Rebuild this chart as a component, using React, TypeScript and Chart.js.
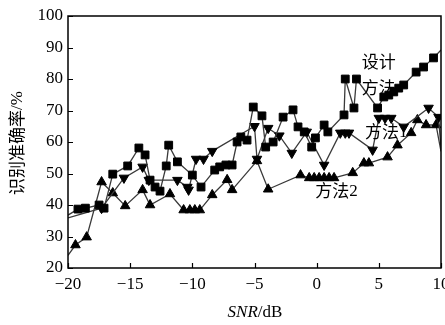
import React, { useEffect, useRef } from "react";
import { Chart, registerables } from "chart.js";

Chart.register(...registerables);

// ---- data ----
const designX = [-20, -19.2, -18.6, -17.5, -17.1, -16.4, -15.2, -14.3, -13.8, -13.4, -13.0, -12.6, -12.1, -11.9, -11.2, -10.0, -9.3, -8.2, -7.8, -7.3, -6.8, -6.4, -6.1, -5.6, -5.1, -4.4, -4.1, -3.5, -2.7, -1.9, -1.5, -1.0, -0.4, -0.1, 0.6, 0.9, 2.2, 2.3, 3.0, 3.2, 4.9, 5.4, 5.8, 6.2, 6.6, 7.0, 8.0, 8.6, 9.4, 10];
const designY = [36.8, 38.7, 39.0, 40.0, 39.0, 49.8, 52.4, 58.1, 55.9, 47.9, 45.7, 44.4, 52.4, 59.0, 53.7, 49.5, 45.7, 51.1, 52.1, 52.7, 52.7, 60.0, 61.6, 60.6, 71.1, 68.3, 58.4, 60.0, 67.9, 70.2, 64.8, 63.2, 58.4, 61.3, 65.4, 63.2, 68.6, 80.0, 70.8, 80.0, 70.8, 74.3, 74.9, 75.9, 77.1, 78.1, 82.2, 83.8, 86.7, 89.2];

const method1X = [-20, -17.3, -15.5, -14.0, -13.5, -11.2, -10.4, -10.3, -9.7, -9.1, -8.4, -5.0, -4.8, -3.9, -3.0, -2.0, -0.8, 0.6, 1.9, 2.3, 2.6, 4.5, 5.0, 5.5, 6.0, 7.0, 9.0, 9.8, 10];
const method1Y = [35.9, 39.0, 48.6, 52.1, 47.9, 47.9, 45.7, 44.8, 54.6, 54.6, 57.1, 65.0, 54.6, 64.4, 62.0, 56.5, 63.2, 52.7, 62.9, 62.9, 62.9, 57.5, 67.6, 67.6, 67.6, 64.8, 70.8, 67.9, 58];

const method2X = [-20, -19.4, -18.5, -17.3, -16.4, -15.4, -14.0, -13.4, -11.8, -10.7, -10.2, -9.8, -9.4, -8.4, -7.2, -6.8, -4.8, -3.9, -1.3, -0.6, -0.2, 0.2, 0.6, 1.0, 1.4, 2.9, 3.8, 4.2, 5.7, 6.5, 7.6, 8.1, 8.8, 9.6, 10];
const method2Y = [24, 27.3, 29.8, 47.3, 43.8, 39.7, 44.8, 40.0, 43.5, 38.4, 38.4, 38.4, 38.4, 43.2, 48.0, 44.8, 54.0, 45.0, 49.5, 48.6, 48.6, 48.6, 48.6, 48.6, 48.6, 50.2, 53.3, 53.3, 55.2, 59.0, 62.9, 67.0, 65.4, 65.4, 57];

const xTicks = [-20, -15, -10, -5, 0, 5, 10];
const yTicks = [20, 30, 40, 50, 60, 70, 80, 90, 100];

const labels = [
  { text: "设计", x: 5.0, y: 85.4 },
  { text: "方法", x: 5.0, y: 77.3 },
  { text: "方法1", x: 5.6, y: 63.3 },
  { text: "方法2", x: 1.6, y: 44.6 },
];

const X_MIN = -20, X_MAX = 10, Y_MIN = 20, Y_MAX = 100;

const serif = "'Liberation Serif', 'DejaVu Serif', serif";
const cjk = "'Noto Sans CJK SC', sans-serif";

const toPts = (xs: number[], ys: number[]) => xs.map((x, i) => ({ x, y: ys[i] }));
const radii = (xs: number[], r: number) => xs.map((x) => (x <= X_MIN || x >= X_MAX ? 0 : r));

const fmt = (v: number) => (v < 0 ? "\u2212" + Math.abs(v) : String(v));

function mixedText(ctx: any, parts: { t: string; font: string; dy: number }[], cx: number, cy: number) {
  let total = 0;
  parts.forEach((p) => {
    ctx.font = p.font;
    total += ctx.measureText(p.t).width;
  });
  let sx = cx - total / 2;
  ctx.textAlign = "left";
  ctx.textBaseline = "middle";
  parts.forEach((p) => {
    ctx.font = p.font;
    ctx.fillText(p.t, sx, cy + p.dy);
    sx += ctx.measureText(p.t).width;
  });
}

const decor = {
  id: "decor",
  afterDraw(chart: any) {
    const { ctx, chartArea: a, scales } = chart;
    const xs = scales.x, ys = scales.y;
    ctx.save();
    ctx.strokeStyle = "#000";
    ctx.lineWidth = 1.5;
    ctx.strokeRect(a.left, a.top, a.right - a.left, a.bottom - a.top);
    ctx.lineWidth = 1.2;
    ctx.beginPath();
    yTicks.forEach((v) => {
      const p = Math.round(ys.getPixelForValue(v)) + 0.5;
      ctx.moveTo(a.left, p);
      ctx.lineTo(a.left + 5, p);
    });
    xTicks.forEach((v) => {
      const p = Math.round(xs.getPixelForValue(v)) + 0.5;
      ctx.moveTo(p, a.bottom);
      ctx.lineTo(p, a.bottom - 5);
    });
    ctx.stroke();

    ctx.fillStyle = "#000";
    const hanFont = `17px ${cjk}`;
    const numFont = `17px ${serif}`;
    labels.forEach((l) => {
      const px = xs.getPixelForValue(l.x);
      const py = ys.getPixelForValue(l.y);
      const m = l.text.match(/^(\D+)(\d*)$/);
      const han = m ? m[1] : l.text;
      const num = m ? m[2] : "";
      const parts = [{ t: han, font: hanFont, dy: 0 }];
      if (num) parts.push({ t: num, font: numFont, dy: 1 });
      mixedText(ctx, parts, px, py);
    });

    // y title
    ctx.save();
    ctx.translate(17, 143);
    ctx.rotate(-Math.PI / 2);
    mixedText(
      ctx,
      [
        { t: "识别准确率", font: `17px ${cjk}`, dy: 0 },
        { t: "/%", font: `17px ${serif}`, dy: 1 },
      ],
      0,
      0
    );
    ctx.restore();

    // x title
    mixedText(
      ctx,
      [
        { t: "SNR", font: `italic 17px ${serif}`, dy: 0 },
        { t: "/dB", font: `17px ${serif}`, dy: 0 },
      ],
      255,
      313
    );
    ctx.restore();
  },
};

export default function App() {
  const ref = useRef<HTMLCanvasElement>(null);
  useEffect(() => {
    document.body.style.margin = "0";
    const lineColor = "#3a3a3a";
    const common = {
      borderColor: lineColor,
      borderWidth: 1.3,
      pointBackgroundColor: "#000",
      pointBorderColor: "#000",
      pointBorderWidth: 1,
      tension: 0,
      fill: false,
    };
    const chart = new Chart(ref.current as HTMLCanvasElement, {
      type: "line",
      data: {
        datasets: [
          {
            ...common,
            label: "设计方法",
            data: toPts(designX, designY),
            pointStyle: "rect",
            pointRadius: radii(designX, 5.5),
          },
          {
            ...common,
            label: "方法1",
            data: toPts(method1X, method1Y),
            pointStyle: "triangle",
            rotation: 180,
            pointRadius: radii(method1X, 5.5),
          },
          {
            ...common,
            label: "方法2",
            data: toPts(method2X, method2Y),
            pointStyle: "triangle",
            pointRadius: radii(method2X, 5.5),
          },
        ] as any,
      },
      options: {
        animation: false,
        responsive: false,
        parsing: false as any,
        layout: { padding: { top: 16, right: 4, left: 0, bottom: 0 } },
        plugins: { legend: { display: false }, tooltip: { enabled: false } },
        scales: {
          x: {
            type: "linear",
            min: X_MIN,
            max: X_MAX,
            afterBuildTicks: (s: any) => {
              s.ticks = xTicks.map((v) => ({ value: v }));
            },
            afterFit: (s: any) => {
              s.height = 57;
              s.paddingLeft = 0;
              s.paddingRight = 0;
            },
            grid: { display: false, drawTicks: false },
            border: { display: false },
            ticks: {
              padding: 6,
              color: "#000",
              font: { family: serif, size: 17 },
              callback: (v: any) => fmt(Number(v)),
              maxRotation: 0,
              autoSkip: false,
            },
          },
          y: {
            type: "linear",
            min: Y_MIN,
            max: Y_MAX,
            afterBuildTicks: (s: any) => {
              s.ticks = yTicks.map((v) => ({ value: v }));
            },
            afterFit: (s: any) => {
              s.width = 68;
              s.paddingTop = 0;
              s.paddingBottom = 0;
            },
            grid: { display: false, drawTicks: false },
            border: { display: false },
            ticks: {
              padding: 5,
              color: "#000",
              font: { family: serif, size: 17 },
              autoSkip: false,
            },
          },
        },
      } as any,
      plugins: [decor],
    });
    return () => chart.destroy();
  }, []);
  return (
    <div style={{ width: 445, height: 325 }}>
      <canvas ref={ref} width={445} height={325} />
    </div>
  );
}
